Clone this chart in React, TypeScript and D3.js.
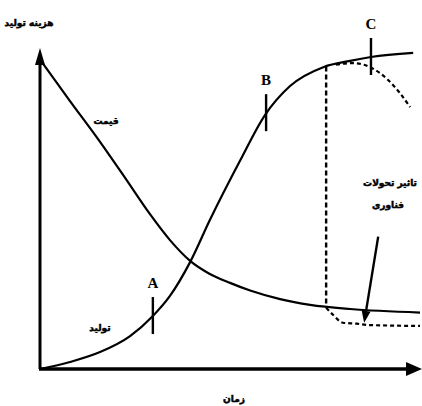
import React, { useEffect, useRef } from "react";
import * as d3 from "d3";

const width = 422;
const height = 406;

// time (0..100) and value (0..100)
const productionTime = [0, 7.9, 15.8, 23.7, 29.7, 34.2, 39.5, 44.7, 52.6, 59.2, 65.8, 74.7, 81.6, 87.1, 98.2];
const productionValue = [0, 2.2, 5.3, 10.3, 16.6, 22.9, 33.5, 46.7, 65.2, 79.6, 88.7, 94.7, 96.6, 97.8, 99.1];

const priceTime = [0.5, 7.9, 15.8, 22.4, 28.9, 34.2, 39.5, 44.7, 50, 55.3, 63.2, 71.1, 81.6, 100];
const priceValue = [96.2, 84, 71.2, 59.9, 48.6, 40.4, 33.9, 29.8, 27, 24.6, 21.9, 20.1, 18.8, 17.7];

// dashed: production falling off after the peak
const declineTime = [77.9, 82.4, 87.4, 91.6, 94.7, 97.4];
const declineValue = [95.4, 95.9, 94.3, 90.6, 86.5, 82.1];

// dashed: price after technology change
const lowerPriceTime = [75.3, 77.1, 79.7, 83.4, 86.1, 100];
const lowerPriceValue = [19.2, 17, 14.5, 14.2, 13.8, 13.5];

const dropTime = 75.3;
const dropRange = [94.8, 19.5];

const markLabels = ["A", "B", "C"];
const markTime = [29.7, 59.5, 87.1];
const markValue = [16.6, 80.2, 97.8];

const techArrowTime = [89, 85.3];
const techArrowValue = [41.5, 14.5];

const yTitle = "هزینه تولید";
const xTitle = "زمان";
const priceLabel = "قیمت";
const productionLabel = "تولید";
const techLabel = ["تاثیر تحولات", "فناوری"];

const persianFont = "'DejaVu Sans', sans-serif";

export default function App() {
  const svgRef = useRef<SVGSVGElement>(null);

  useEffect(() => {
    const svg = d3.select(svgRef.current);
    svg.selectAll("*").remove();

    const x = d3.scaleLinear().domain([0, 100]).range([40, 420]);
    const y = d3.scaleLinear().domain([0, 100]).range([369, 50]);

    const line = d3.line<[number, number]>()
      .x(d => x(d[0]))
      .y(d => y(d[1]))
      .curve(d3.curveMonotoneX);

    const zip = (a: number[], b: number[]) => a.map((t, i) => [t, b[i]] as [number, number]);

    // axes
    svg.append("line")
      .attr("x1", x(0)).attr("y1", y(0))
      .attr("x2", x(0)).attr("y2", y(100) + 12)
      .attr("stroke", "#000").attr("stroke-width", 3);
    svg.append("path")
      .attr("d", `M${x(0)},${y(100) - 2} L${x(0) - 5},${y(100) + 15} L${x(0) + 5},${y(100) + 15} Z`)
      .attr("fill", "#000");

    svg.append("line")
      .attr("x1", x(0) - 1).attr("y1", y(0))
      .attr("x2", x(100) - 12).attr("y2", y(0))
      .attr("stroke", "#000").attr("stroke-width", 3.5);
    svg.append("path")
      .attr("d", `M${x(100) + 2},${y(0)} L${x(100) - 14},${y(0) - 7} L${x(100) - 14},${y(0) + 7} Z`)
      .attr("fill", "#000");

    // curves
    svg.append("path")
      .attr("d", line(zip(priceTime, priceValue)))
      .attr("fill", "none").attr("stroke", "#000").attr("stroke-width", 2.2);

    svg.append("path")
      .attr("d", line(zip(productionTime, productionValue)))
      .attr("fill", "none").attr("stroke", "#000").attr("stroke-width", 2.2);

    svg.append("path")
      .attr("d", line(zip(declineTime, declineValue)))
      .attr("fill", "none").attr("stroke", "#000").attr("stroke-width", 2.2)
      .attr("stroke-dasharray", "4,3");

    svg.append("path")
      .attr("d", line(zip(lowerPriceTime, lowerPriceValue)))
      .attr("fill", "none").attr("stroke", "#000").attr("stroke-width", 2.2)
      .attr("stroke-dasharray", "4,3");

    svg.append("line")
      .attr("x1", x(dropTime)).attr("y1", y(dropRange[0]))
      .attr("x2", x(dropTime)).attr("y2", y(dropRange[1]))
      .attr("stroke", "#000").attr("stroke-width", 2.4)
      .attr("stroke-dasharray", "5,3");

    // A, B, C marks
    markLabels.forEach((label, i) => {
      const cx = x(markTime[i]);
      const cy = y(markValue[i]);
      svg.append("line")
        .attr("x1", cx).attr("y1", cy - 19)
        .attr("x2", cx).attr("y2", cy + 18)
        .attr("stroke", "#000").attr("stroke-width", 2.4);
      svg.append("text")
        .attr("x", cx).attr("y", cy - 28)
        .attr("text-anchor", "middle")
        .attr("font-family", "'Liberation Serif', serif")
        .attr("font-weight", "bold")
        .attr("font-size", 15)
        .text(label);
    });

    // technology arrow
    const ax0 = x(techArrowTime[0]), ay0 = y(techArrowValue[0]);
    const ax1 = x(techArrowTime[1]), ay1 = y(techArrowValue[1]);
    const ang = Math.atan2(ay1 - ay0, ax1 - ax0);
    const headLen = 12, headW = 4.5;
    const bx = ax1 - headLen * Math.cos(ang), by = ay1 - headLen * Math.sin(ang);
    svg.append("line")
      .attr("x1", ax0).attr("y1", ay0)
      .attr("x2", bx).attr("y2", by)
      .attr("stroke", "#000").attr("stroke-width", 2.4);
    svg.append("path")
      .attr("d", `M${ax1},${ay1} L${bx - headW * Math.sin(ang)},${by + headW * Math.cos(ang)} L${bx + headW * Math.sin(ang)},${by - headW * Math.cos(ang)} Z`)
      .attr("fill", "#000");

    // labels (heavy weight, like the scanned figure)
    const persian = (tx: number, ty: number, s: string) =>
      svg.append("text")
        .attr("x", tx).attr("y", ty)
        .attr("text-anchor", "middle")
        .attr("font-family", persianFont)
        .attr("font-weight", "bold")
        .attr("font-size", 9)
        .attr("stroke", "#000")
        .attr("stroke-width", 0.5)
        .text(s);

    persian(29, 26, yTitle);
    persian(106, 124, priceLabel);
    persian(100, 331, productionLabel);
    persian(234, 402, xTitle);
    persian(390, 186, techLabel[0]);
    persian(388, 208, techLabel[1]);
  }, []);

  return (
    <svg
      ref={svgRef}
      width={width}
      height={height}
      style={{ position: "absolute", left: 0, top: 0, background: "#fff" }}
    />
  );
}
